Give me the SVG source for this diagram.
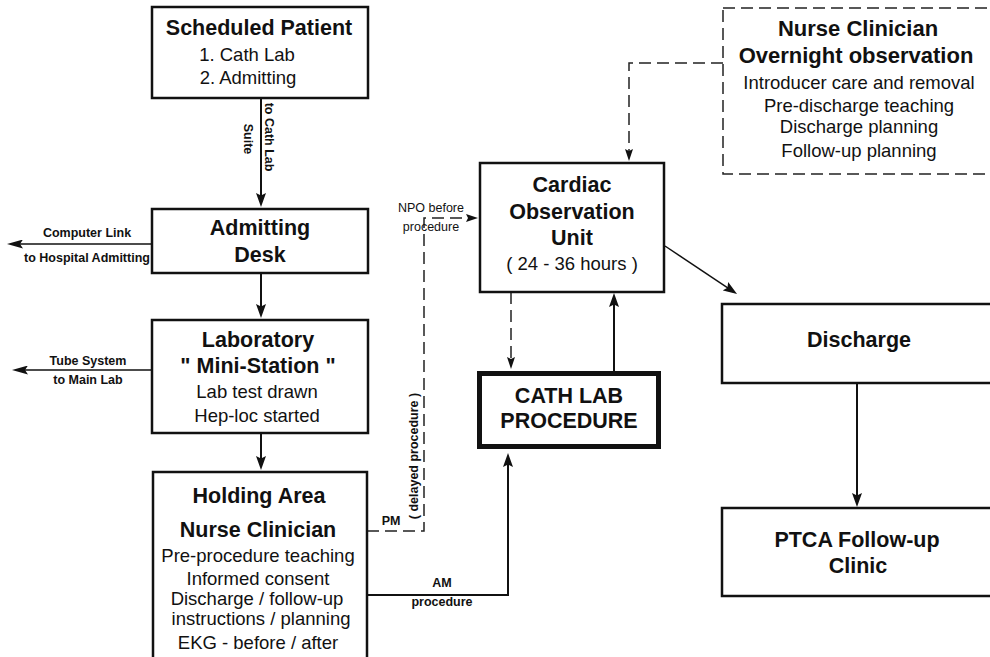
<svg xmlns="http://www.w3.org/2000/svg" width="990" height="657" viewBox="0 0 990 657">
  <style>
    .box { fill: #fff; stroke: #111; stroke-width: 2.5; }
    .thick { fill: #fff; stroke: #111; stroke-width: 5; }
    .dbox { fill: none; stroke: #222; stroke-width: 1.5; stroke-dasharray: 12 6; }
    .ln { fill: none; stroke: #111; stroke-width: 2; }
    .thin { fill: none; stroke: #111; stroke-width: 1.5; }
    .dash { fill: none; stroke: #222; stroke-width: 1.5; stroke-dasharray: 12 6; }
    text { font-family: "Liberation Sans", Arial, Helvetica, sans-serif; fill: #111; text-anchor: middle; }
    .h { font-size: 21.5px; font-weight: bold; }
    .t { font-size: 18.5px; }
    .lbl { font-size: 12.5px; font-weight: bold; }
    .lblr { font-size: 12.5px; }
  </style>
  <defs>
    <marker id="ah" viewBox="0 0 14 10" refX="10" refY="5" markerWidth="14" markerHeight="10" markerUnits="userSpaceOnUse" orient="auto">
      <path d="M0,0 L14,5 L0,10 L2.5,5 z" fill="#111"/>
    </marker>
    <marker id="ahl" viewBox="0 0 16 9" refX="12" refY="4.5" markerWidth="16" markerHeight="9" markerUnits="userSpaceOnUse" orient="auto">
      <path d="M0,0 L16,4.5 L0,9 L3,4.5 z" fill="#111"/>
    </marker>
    <marker id="ahd" viewBox="0 0 12 8" refX="8" refY="4" markerWidth="12" markerHeight="8" markerUnits="userSpaceOnUse" orient="auto">
      <path d="M0,0 L12,4 L0,8 L2,4 z" fill="#111"/>
    </marker>
  </defs>

  <rect width="990" height="657" fill="#fff"/>

  <!-- connectors -->
  <g id="connectors">
    <line class="ln" x1="261" y1="98" x2="261" y2="203" marker-end="url(#ah)"/>
    <line class="ln" x1="261" y1="273" x2="261" y2="314" marker-end="url(#ah)"/>
    <line class="ln" x1="261" y1="433" x2="261" y2="466" marker-end="url(#ah)"/>
    <line class="thin" x1="152" y1="244" x2="11" y2="244" marker-end="url(#ahl)"/>
    <line class="thin" x1="152" y1="370" x2="16" y2="370" marker-end="url(#ahl)"/>
    <path class="dash" d="M367,531 H424 V218 H474" marker-end="url(#ahd)"/>
    <path class="ln" d="M367,595 H508 V457" marker-end="url(#ah)"/>
    <line class="ln" x1="614" y1="371" x2="614" y2="297" marker-end="url(#ah)"/>
    <line class="dash" x1="511" y1="292" x2="511" y2="365" marker-end="url(#ahd)"/>
    <path class="dash" d="M723,63 H629 V157" marker-end="url(#ahd)"/>
    <line class="thin" x1="665" y1="246" x2="733.7" y2="291.8" marker-end="url(#ah)"/>
    <line class="ln" x1="857" y1="383" x2="857" y2="503" marker-end="url(#ah)"/>

    <!-- connector labels -->
    <text class="lbl" transform="translate(265,137) rotate(90)">to Cath Lab</text>
    <text class="lbl" transform="translate(244,139) rotate(90)">Suite</text>
    <text class="lbl" x="87" y="237">Computer Link</text>
    <text class="lbl" x="87" y="262">to Hospital Admitting</text>
    <text class="lbl" x="88" y="365">Tube System</text>
    <text class="lbl" x="88" y="384">to Main Lab</text>
    <text class="lblr" x="431" y="212">NPO before</text>
    <text class="lblr" x="431" y="231">procedure</text>
    <text class="lbl" transform="translate(418,456) rotate(-90)">( delayed procedure )</text>
    <text class="lbl" x="391" y="525">PM</text>
    <text class="lbl" x="442" y="587">AM</text>
    <text class="lbl" x="442" y="606">procedure</text>
  </g>

  <g id="scheduled-patient">
    <rect class="box" x="152" y="7" width="216" height="91"/>
    <text class="h" x="259" y="35">Scheduled Patient</text>
    <text class="t" x="247" y="61">1. Cath Lab</text>
    <text class="t" x="248" y="84">2. Admitting</text>
  </g>

  <g id="admitting-desk">
    <rect class="box" x="152" y="209" width="216" height="64"/>
    <text class="h" x="260" y="235">Admitting</text>
    <text class="h" x="260" y="262">Desk</text>
  </g>

  <g id="laboratory">
    <rect class="box" x="152" y="320" width="216" height="113"/>
    <text class="h" x="258" y="347">Laboratory</text>
    <text class="h" x="258" y="373">" Mini-Station "</text>
    <text class="t" x="257" y="398">Lab test drawn</text>
    <text class="t" x="257" y="422">Hep-loc started</text>
  </g>

  <g id="holding-area">
    <rect class="box" x="153" y="472" width="214" height="200"/>
    <text class="h" x="259" y="503">Holding Area</text>
    <text class="h" x="258" y="537">Nurse Clinician</text>
    <text class="t" x="258" y="562">Pre-procedure teaching</text>
    <text class="t" x="258" y="585">Informed consent</text>
    <text class="t" x="257" y="605">Discharge / follow-up</text>
    <text class="t" x="261" y="625">instructions / planning</text>
    <text class="t" x="258" y="649">EKG - before / after</text>
  </g>

  <g id="cardiac-observation-unit">
    <rect class="box" x="480" y="163" width="184" height="129"/>
    <text class="h" x="572" y="192">Cardiac</text>
    <text class="h" x="572" y="219">Observation</text>
    <text class="h" x="572" y="245">Unit</text>
    <text class="t" x="572" y="270">( 24 - 36 hours )</text>
  </g>

  <g id="cath-lab-procedure">
    <rect class="thick" x="479.5" y="373.5" width="179" height="73"/>
    <text class="h" x="569" y="403">CATH LAB</text>
    <text class="h" x="569" y="428">PROCEDURE</text>
  </g>

  <g id="nurse-clinician-overnight">
    <rect class="dbox" x="723" y="8" width="300" height="166"/>
    <text class="h" x="858" y="36" style="font-size:22px">Nurse Clinician</text>
    <text class="h" x="856" y="63" style="font-size:22px">Overnight observation</text>
    <text class="t" x="859" y="89">Introducer care and removal</text>
    <text class="t" x="859" y="112">Pre-discharge teaching</text>
    <text class="t" x="859" y="133">Discharge planning</text>
    <text class="t" x="859" y="157">Follow-up planning</text>
  </g>

  <g id="discharge">
    <rect class="box" x="722" y="304" width="300" height="79"/>
    <text class="h" x="859" y="347">Discharge</text>
  </g>

  <g id="ptca-follow-up-clinic">
    <rect class="box" x="722" y="508" width="300" height="88"/>
    <text class="h" x="857" y="547">PTCA Follow-up</text>
    <text class="h" x="858" y="573">Clinic</text>
  </g>
</svg>
